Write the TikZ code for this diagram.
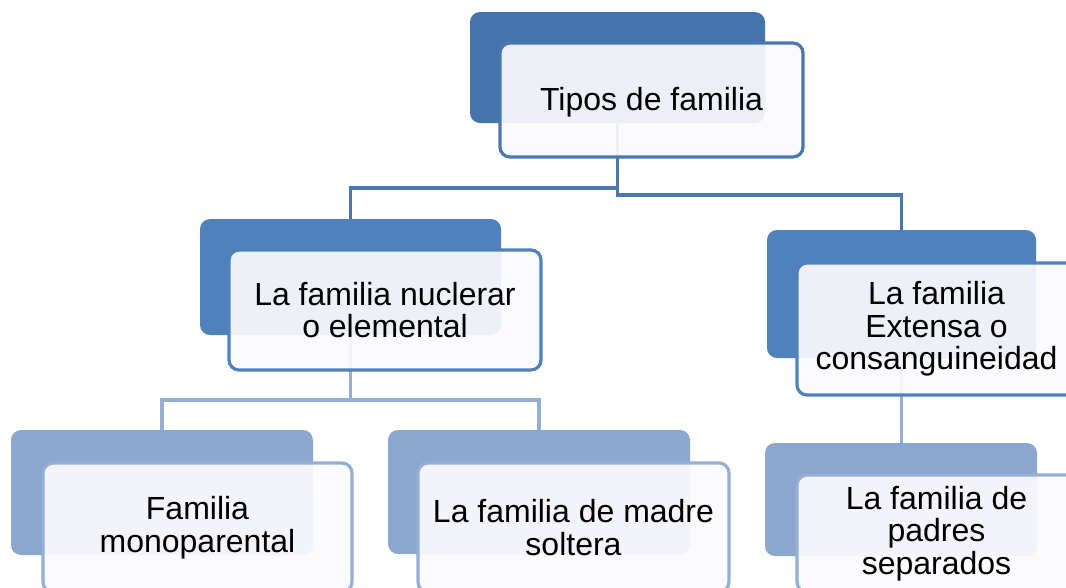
\documentclass[tikz,border=0pt]{standalone}
\usepackage{fontspec}
\setmainfont{Liberation Sans}
\definecolor{backA}{HTML}{4573AB}
\definecolor{backB}{HTML}{4F81BD}
\definecolor{backC}{HTML}{8CA7CF}
\definecolor{lineA}{HTML}{4A77AF}
\definecolor{lineB}{HTML}{4F81BD}
\definecolor{lineC}{HTML}{94AED6}
\definecolor{frontfill}{HTML}{FBFBFD}
\begin{document}
\begin{tikzpicture}[x=1pt,y=-1pt,
  backbox/.style={rectangle, rounded corners=10pt, inner sep=0pt, draw=none},
  frontbox/.style={rectangle, rounded corners=10pt, inner sep=0pt, line width=3.2pt,
    fill=frontfill, fill opacity=0.92, text opacity=1, align=center,
    font=\fontsize{32}{32.5}\selectfont},
  conA/.style={draw=lineA, line width=3.2pt},
  conC/.style={draw=lineC, line width=3.2pt}]
\useasboundingbox (0,0) rectangle (1066,587);
\clip (0,0) rectangle (1066,587);
% back boxes
\node[backbox, fill=backA, minimum width=295pt, minimum height=111pt] (t0) at (617.5,67.5) {};
\node[backbox, fill=backB, minimum width=301pt, minimum height=116pt] (l0) at (350.5,277) {};
\node[backbox, fill=backB, minimum width=269pt, minimum height=128pt] (r0) at (901.5,294) {};
\node[backbox, fill=backC, minimum width=302pt, minimum height=125pt] (a0) at (162,492.5) {};
\node[backbox, fill=backC, minimum width=302pt, minimum height=124pt] (b0) at (539,492) {};
\node[backbox, fill=backC, minimum width=272pt, minimum height=113pt] (c0) at (901,499.5) {};
% elbow levels
\coordinate (m1) at (0,188);
\coordinate (m2) at (0,195);
\coordinate (m3) at (0,400);
% connectors
\draw[conA] (t0.south) -- (t0.south |- m1) -| (l0.north);
\draw[conA] (t0.south) -- (t0.south |- m2) -| (r0.north);
\draw[conC] (l0.south) -- (l0.south |- m3) -| (a0.north);
\draw[conC] (l0.south) -- (l0.south |- m3) -| (b0.north);
\draw[conC] (r0.south) -- (r0.south |- c0.north);
% front boxes
\node[frontbox, draw=lineA, minimum width=303pt, minimum height=114pt, text height=28pt, text depth=7pt] (t1) at (651.5,100) {Tipos de familia};
\node[frontbox, draw=lineB, minimum width=312pt, minimum height=120pt] (l1) at (385,310) {La familia nuclerar\\o elemental};
\node[frontbox, draw=lineB, minimum width=279pt, minimum height=132pt] (r1) at (936.5,329) {La familia\\Extensa o\\consanguineidad};
\node[frontbox, draw=lineC, minimum width=309pt, minimum height=129pt] (a1) at (197.5,527.5) {Familia\\monoparental};
\node[frontbox, draw=lineC, minimum width=311pt, minimum height=129pt] (b1) at (573.5,527.5) {La familia de madre\\soltera};
\node[frontbox, draw=lineC, minimum width=279pt, minimum height=117pt] (c1) at (936.5,533.5) {La familia de\\padres\\separados};
\end{tikzpicture}
\end{document}
